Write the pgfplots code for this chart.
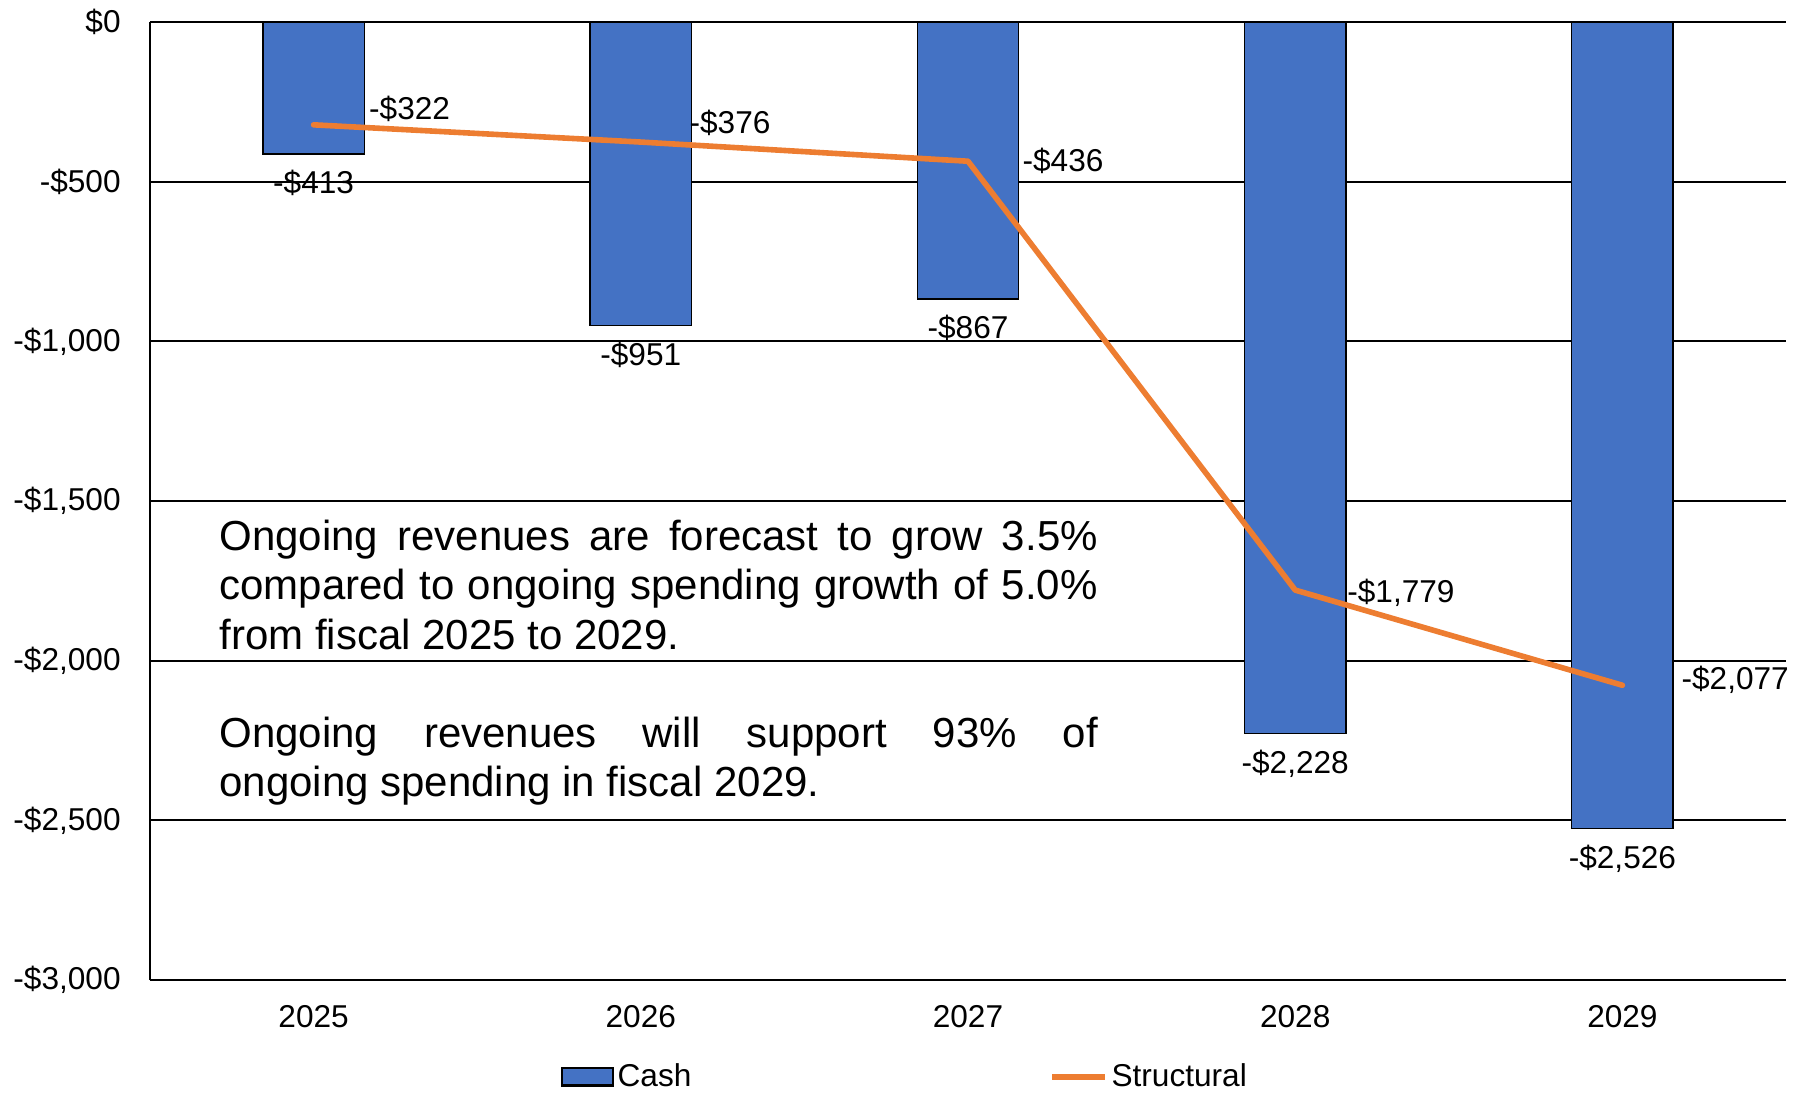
\documentclass[border=0pt]{standalone}
\usepackage{pgfplots}
\pgfplotsset{compat=1.18}
\usepackage{pgfplotstable}
\usepackage{fontspec}
\setmainfont{Liberation Sans}
\definecolor{cashblue}{RGB}{68,114,196}
\definecolor{structorange}{RGB}{237,125,49}
\newcommand{\lblfont}{\fontsize{15.8}{19}\selectfont}
\tikzset{structlbl/.style={font=\lblfont, inner sep=0pt, anchor=west}}

% deficits by fiscal year, $ millions
\pgfplotstableread{
x cash cashlab str
0 -413 -\$413 -322
1 -951 -\$951 -376
2 -867 -\$867 -436
3 -2228 -\$2,228 -1779
4 -2526 -\$2,526 -2077
}\budget

\begin{document}
\begin{tikzpicture}
\begin{axis}[
  scale only axis, width=818pt, height=479pt,
  xmin=-0.5, xmax=4.5, ymin=-3000, ymax=0,
  axis x line*=bottom, axis y line*=left,
  axis line style={-, black, line width=0.85pt},
  xtick={0,1,2,3,4}, xticklabels={2025,2026,2027,2028,2029},
  ytick={-3000,-2500,-2000,-1500,-1000,-500,0},
  yticklabels={{-\$3,000},{-\$2,500},{-\$2,000},{-\$1,500},{-\$1,000},{-\$500},{\$0}},
  major tick length=0pt,
  ymajorgrids, grid style={black, line width=0.85pt},
  tick label style={font=\lblfont, inner sep=0pt},
  xticklabel style={anchor=center, yshift=-18.25pt},
  yticklabel style={anchor=east, xshift=-14.5pt},
  legend columns=2,
  legend style={at={(0.251,-0.101)}, anchor=west, draw=none, fill=none,
    inner sep=0pt, font=\lblfont, nodes={inner sep=0pt},
    /tikz/every even column/.append style={column sep=179pt},
    /tikz/every odd column/.append style={column sep=1.8pt}},
]
\addplot[ybar, bar width=0.31, fill=cashblue, draw=black, line width=0.75pt,
  nodes near coords, point meta=explicit symbolic,
  every node near coord/.append style={font=\lblfont, inner sep=0pt, anchor=north, yshift=-7.8pt},
  legend image code/.code={\draw[fill=cashblue, draw=black, line width=1.2pt] (0pt,-4.4pt) rectangle (25.3pt,4.4pt);}]
  table[x=x, y=cash, meta=cashlab] {\budget};
\addlegendentry{Cash}
\addplot[structorange, line width=2.8pt, line cap=round, line join=round, mark=none,
  legend image code/.code={\draw[structorange, line width=2.8pt, line cap=butt] (0pt,0pt) -- (26.5pt,0pt);}]
  table[x=x, y=str] {\budget};
\addlegendentry{Structural}
% structural labels, offset as in the original
\node[structlbl, xshift=27.6pt, yshift=8.1pt] at (axis cs:0,-322) {-\$322};
\node[structlbl, xshift=24.2pt, yshift=9.8pt] at (axis cs:1,-376) {-\$376};
\node[structlbl, xshift=27.1pt, yshift=0pt] at (axis cs:2,-436) {-\$436};
\node[structlbl, xshift=25.9pt, yshift=-1.2pt] at (axis cs:3,-1779) {-\$1,779};
\node[structlbl, xshift=29.4pt, yshift=2.9pt] at (axis cs:4,-2077) {-\$2,077};
\coordinate (o) at (rel axis cs:0,0);
\node[anchor=north west, inner sep=0pt] at (axis cs:-0.289,-1559) {%
  \begin{minipage}[t]{439.2pt}\fontsize{21}{24.6}\selectfont\hyphenpenalty=10000
  Ongoing revenues are forecast to grow 3.5\%\linebreak
  compared to ongoing spending growth of 5.0\%\linebreak
  from fiscal 2025 to 2029.\par\vspace{24.6pt}
  Ongoing revenues will support 93\% of\linebreak
  ongoing spending in fiscal 2029.\par
  \end{minipage}};
\end{axis}
\pgfresetboundingbox
\path (o) ++(-75pt,-56.5pt) rectangle ++(902.5pt,546.5pt);
\end{tikzpicture}
\end{document}
